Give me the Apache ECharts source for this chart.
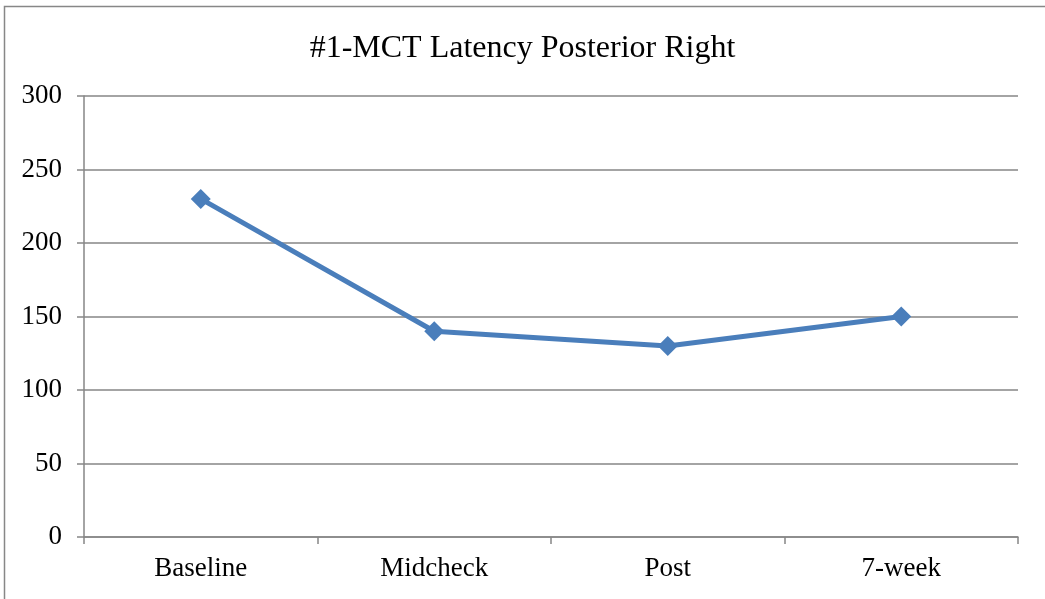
<!DOCTYPE html>
<html><head><meta charset="utf-8">
<script src="https://cdn.jsdelivr.net/npm/echarts@6/dist/echarts.min.js"></script>
<style>html,body{margin:0;padding:0;background:#fff;}#c{width:1045px;height:599px;}</style>
</head><body><div id="c"></div>
<script>
const categories = ['Baseline', 'Midcheck', 'Post', '7-week'];
const latency = [230, 140, 130, 150];
const titleText = '#1-MCT Latency Posterior Right';

const chart = echarts.init(document.getElementById('c'), null, {renderer: 'canvas'});
const font = '"Liberation Serif", "Times New Roman", serif';
chart.setOption({
  animation: false,
  backgroundColor: '#fff',
  graphic: [{
    type: 'rect', shape: {x: 4.5, y: 6.5, width: 1060, height: 620},
    style: {fill: 'none', stroke: '#878787', lineWidth: 1.5}, silent: true
  }],
  title: {
    text: titleText, left: 'center', top: 28,
    textStyle: {fontFamily: font, fontSize: 32, fontWeight: 'normal', color: '#000'}
  },
  grid: {left: 84, right: 27, top: 96, bottom: 62, containLabel: false},
  xAxis: {
    type: 'category', data: categories, boundaryGap: true,
    axisLine: {lineStyle: {color: '#868686', width: 1.5}},
    axisTick: {show: true, length: 7, lineStyle: {color: '#868686', width: 1.5}},
    axisLabel: {fontFamily: font, fontSize: 27, color: '#000', margin: 18}
  },
  yAxis: {
    type: 'value', min: 0, max: 300, interval: 50,
    axisLine: {show: true, lineStyle: {color: '#868686', width: 1.5}},
    axisTick: {show: true, length: 7, lineStyle: {color: '#868686', width: 1.5}},
    axisLabel: {fontFamily: font, fontSize: 27, color: '#000', margin: 22},
    splitLine: {lineStyle: {color: '#868686', width: 1.5}}
  },
  series: [{
    type: 'line', data: latency,
    lineStyle: {color: '#4a7ebb', width: 5},
    itemStyle: {color: '#4a7ebb'},
    symbol: 'diamond', symbolSize: 20
  }]
});
</script></body></html>
